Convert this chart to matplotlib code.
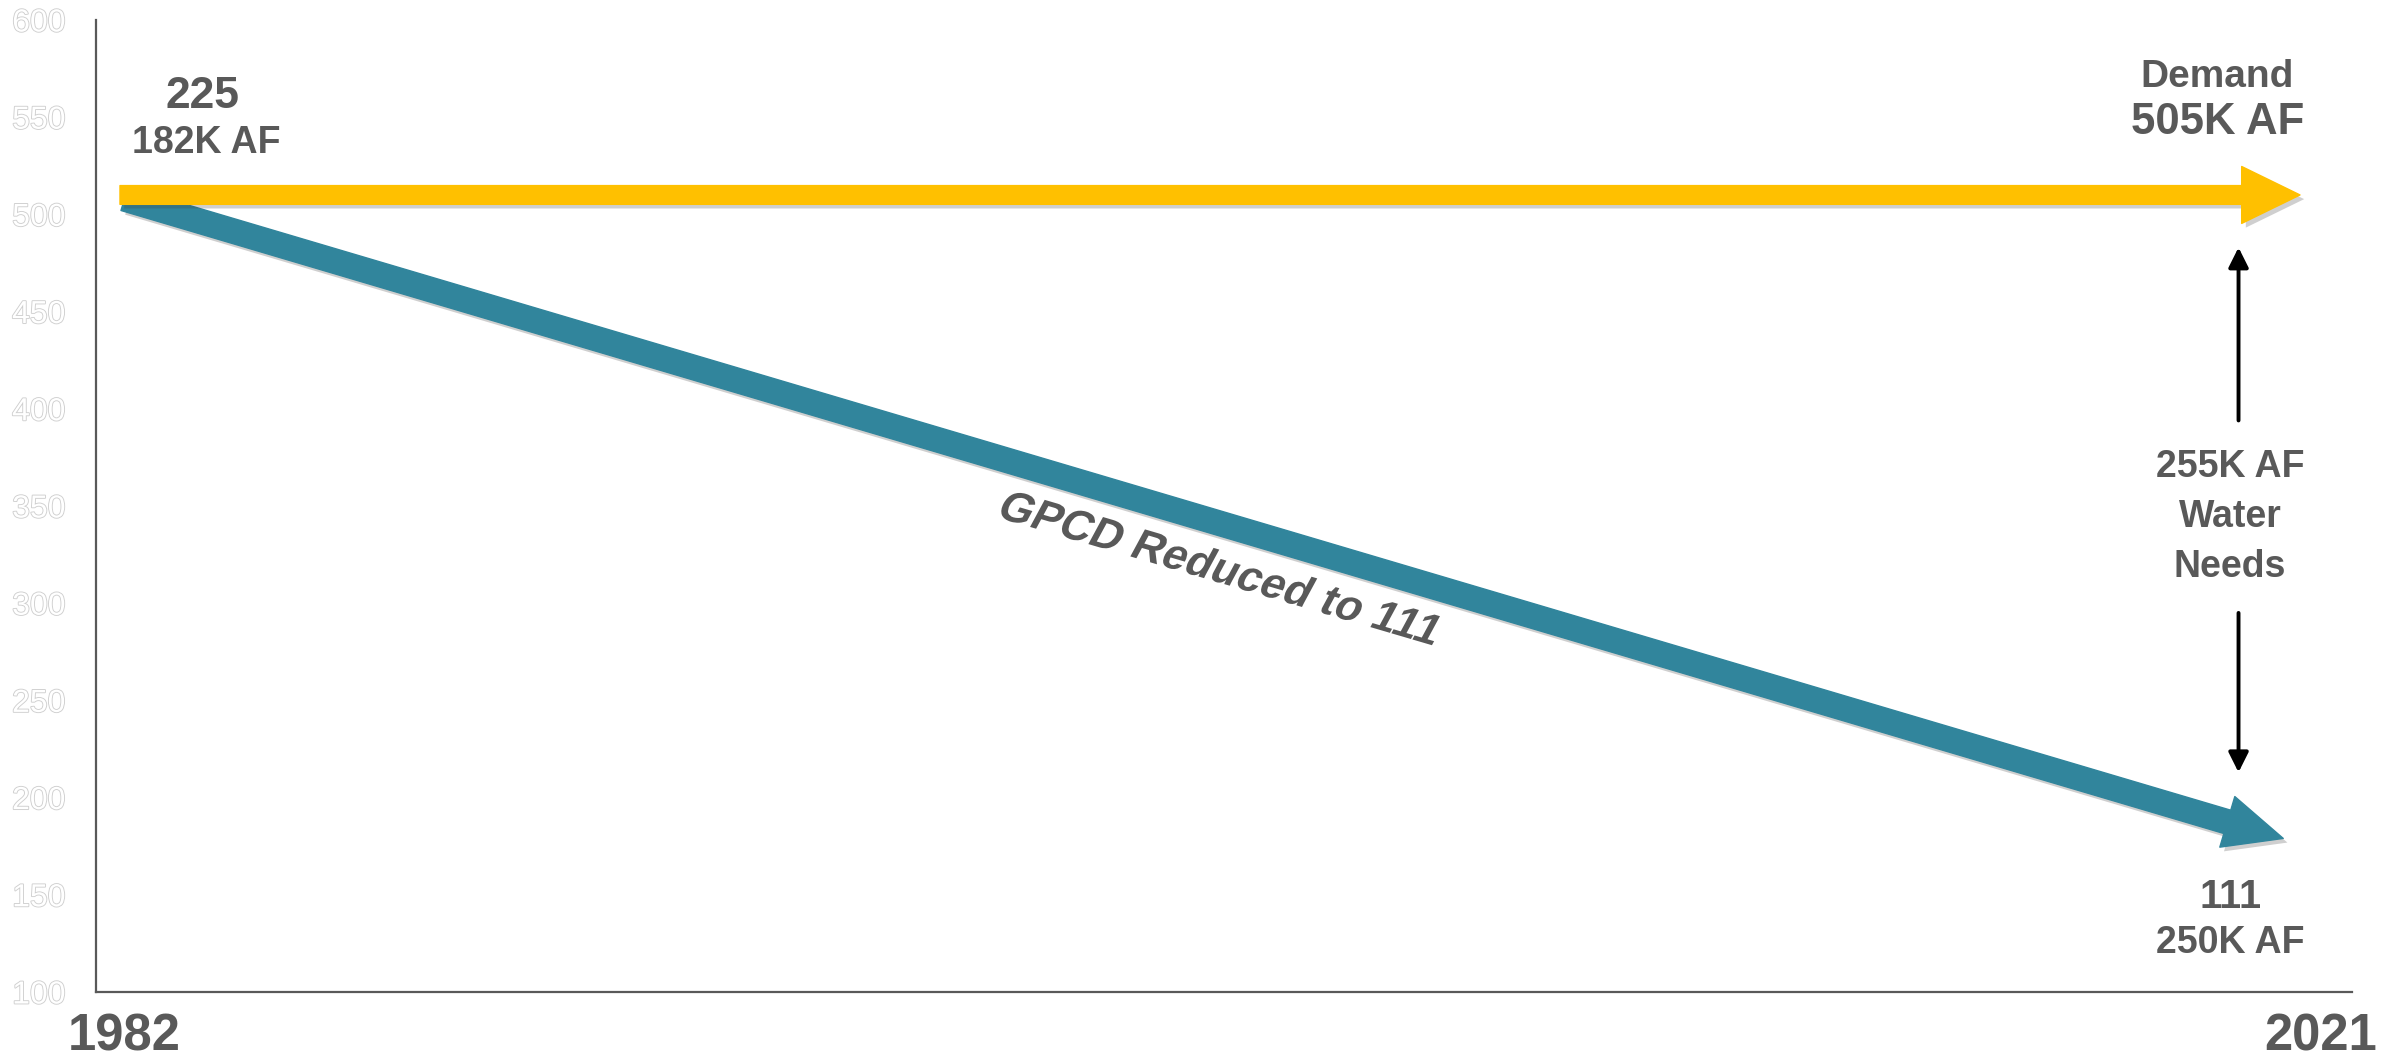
import matplotlib
matplotlib.use("Agg")
import matplotlib.pyplot as plt
import matplotlib.patheffects as pe
from matplotlib.textpath import TextPath
from matplotlib.patches import PathPatch
from matplotlib.font_manager import FontProperties
from matplotlib.transforms import Affine2D

plt.rcParams['font.family'] = ['Liberation Sans', 'DejaVu Sans']

# ---- data ----
year_labels = ['1982', '2021']
demand_x = [1982, 2021]
demand_y = [510, 510]
reduced_x = [1982.08, 2020.7]
reduced_y = [508, 179]
y_ticks = [100, 150, 200, 250, 300, 350, 400, 450, 500, 550, 600]
gap_x = 2019.9
gap_up = [394, 483]      # tail, tip
gap_down = [295, 213]    # tail, tip

TXT = '#595959'
YELLOW = '#FFC000'
TEAL = '#31859C'

fig = plt.figure(figsize=(24, 10.6), dpi=100)
ax = fig.add_axes([0.04, 1 - 992 / 1060, 0.94, 972 / 1060])
ax.set_xlim(1981.571, 2021.93)
ax.set_ylim(100, 600)

for s in ['top', 'right']:
    ax.spines[s].set_visible(False)
for s in ['left', 'bottom']:
    ax.spines[s].set_color(TXT)
    ax.spines[s].set_linewidth(1.6)

ax.set_xticks([])
ax.set_yticks(y_ticks)
ax.set_yticklabels([str(v) for v in y_ticks])
ax.tick_params(axis='y', length=0, pad=22, labelsize=23, labelcolor='white')
for lab in ax.get_yticklabels():
    lab.set_path_effects([pe.Stroke(linewidth=1.3, foreground='#cfcfcf'), pe.Normal()])

shadow = [pe.SimplePatchShadow(offset=(3, -3), shadow_rgbFace='#404040', alpha=0.25), pe.Normal()]

# teal arrow (GPCD reduced)
ax.annotate('', xy=(reduced_x[1], reduced_y[1]), xytext=(reduced_x[0], reduced_y[0]),
            arrowprops=dict(arrowstyle='simple,head_length=42,head_width=38,tail_width=17.5',
                            color=TEAL, shrinkA=0, shrinkB=0, mutation_scale=1,
                            path_effects=shadow), zorder=2)
# yellow arrow (demand)
ax.annotate('', xy=(demand_x[1], demand_y[1]), xytext=(demand_x[0], demand_y[0]),
            arrowprops=dict(arrowstyle='simple,head_length=42,head_width=41,tail_width=13.5',
                            color=YELLOW, shrinkA=0, shrinkB=0, mutation_scale=1,
                            path_effects=shadow), zorder=3)

# gap arrows
for tail, tip in [gap_up, gap_down]:
    ax.annotate('', xy=(gap_x, tip), xytext=(gap_x, tail),
                arrowprops=dict(arrowstyle='-|>,head_length=0.8,head_width=0.4',
                                color='black', lw=2.8, shrinkA=0, shrinkB=0,
                                mutation_scale=15))

def t(x, y, s, size, **kw):
    ax.text(x, y, s, fontsize=size, fontweight='bold', color=TXT,
            ha='center', va='center', clip_on=False, **kw)

t(1983.47, 560.9, '225', 32)
t(1983.55, 536.7, '182K AF', 27)
t(2019.52, 570.7, 'Demand', 28)
t(2019.52, 547.5, '505K AF', 31.5)
t(2019.75, 148.9, '111', 28.5)
t(2019.75, 125.2, '250K AF', 27)
t(2019.75, 370.1, '255K AF', 27)
t(2019.75, 344.3, 'Water', 27)
t(2019.75, 318.6, 'Needs', 27)

# slanted (italic) rotated label drawn as a sheared text path
fp = FontProperties(family='Liberation Sans', weight='bold')
label = 'GPCD Reduced to 111'
tp = TextPath((0, 0), label, size=31.5, prop=fp)
bb = tp.get_extents()
cx, cy = (bb.x0 + bb.x1) / 2, (bb.y0 + bb.y1) / 2
px, py = ax.transData.transform((2001.71, 318.6))
tr = (Affine2D().translate(-cx, -cy).skew_deg(12, 0).scale(fig.dpi / 72)
      .rotate_deg(-16.4).translate(px, py))
fig.add_artist(PathPatch(tp, transform=tr, facecolor=TXT, edgecolor='none'))

# year labels
t(1982.07, 76.9, year_labels[0], 36.5)
t(2021.36, 76.9, year_labels[1], 36.5)

fig.savefig('out.png', dpi=100, facecolor='white')
